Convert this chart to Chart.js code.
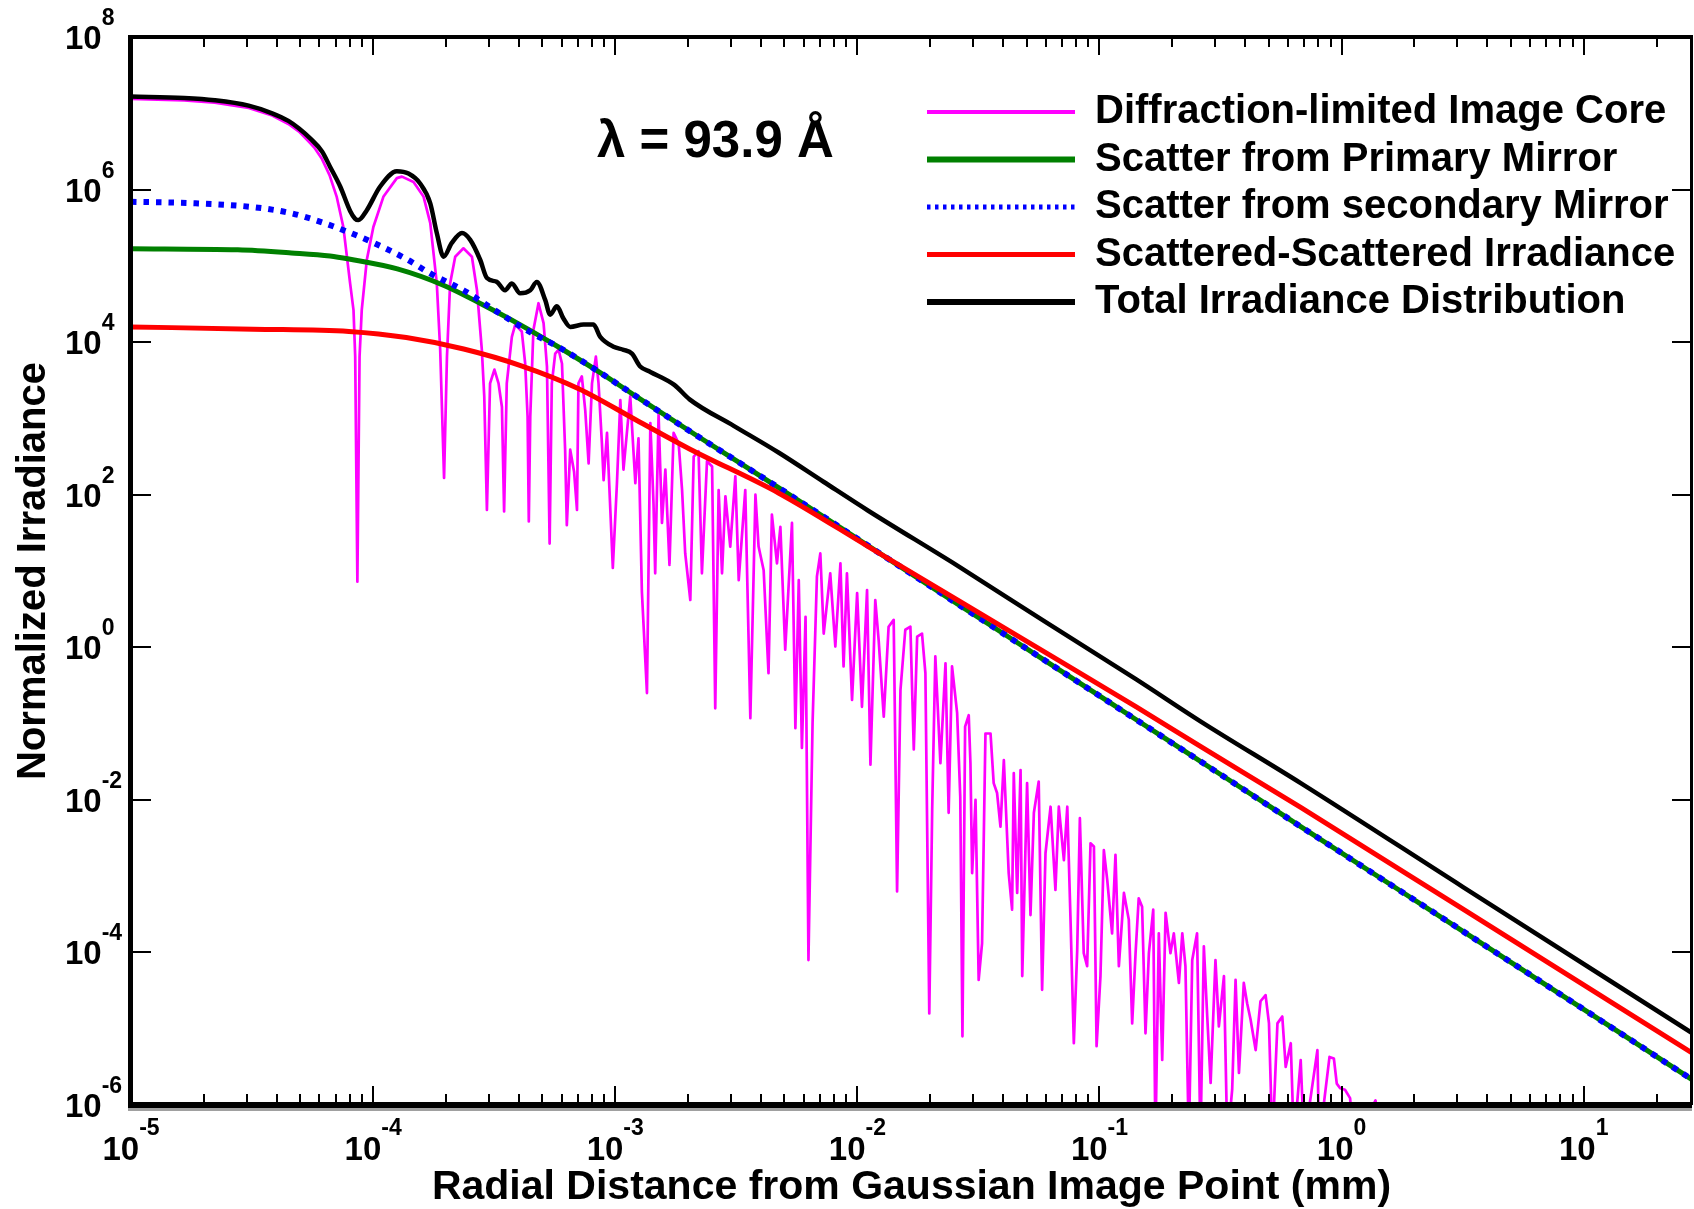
<!DOCTYPE html>
<html>
<head>
<meta charset="utf-8">
<script src="https://cdn.jsdelivr.net/npm/chart.js@4.4.1/dist/chart.umd.min.js"></script>
<style>
  html, body { margin: 0; padding: 0; background: #fff; }
</style>
</head>
<body>
<canvas id="irradiance" width="1694" height="1209"></canvas>
<script>
// values, stored as log10(radius in mm) / log10(normalized irradiance)
const coreLogR = [
  -5.000, -4.780, -4.654, -4.514, -4.417, -4.350, -4.306, -4.260, -4.243, -4.211, -4.180, -4.150, -4.123, -4.095, -4.081, -4.074,
  -4.065, -4.056, -4.047, -4.026, -3.999,
  -3.957, -3.902, -3.881, -3.833, -3.792, -3.764, -3.737, -3.723, -3.707, -3.695, -3.682, -3.661, -3.627, -3.592, -3.571, -3.551,
  -3.541, -3.530, -3.517, -3.499, -3.482, -3.468, -3.459, -3.448, -3.427, -3.413, -3.386, -3.372, -3.362, -3.357, -3.351, -3.338,
  -3.317, -3.296, -3.282, -3.271, -3.262, -3.248, -3.234, -3.220, -3.207, -3.200, -3.186, -3.170, -3.158, -3.152, -3.138, -3.124,
  -3.110, -3.096, -3.080, -3.069, -3.055, -3.048, -3.034, -3.010, -2.993, -2.979, -2.966, -2.938, -2.917, -2.904, -2.890, -2.869,
  -2.855, -2.842, -2.835, -2.821, -2.807, -2.793, -2.776, -2.759, -2.738, -2.724, -2.711, -2.690, -2.676, -2.656, -2.642, -2.621,
  -2.600, -2.587, -2.573, -2.559, -2.545, -2.525, -2.504, -2.490, -2.463, -2.442, -2.421, -2.408, -2.387, -2.367, -2.353, -2.332,
  -2.318, -2.298, -2.270, -2.256, -2.242, -2.229, -2.214, -2.202, -2.185, -2.167, -2.153, -2.139, -2.112, -2.091, -2.070, -2.057,
  -2.043, -2.022, -2.001, -1.981, -1.960, -1.946, -1.926, -1.912, -1.891, -1.871, -1.850, -1.836, -1.822, -1.802, -1.781, -1.767,
  -1.753, -1.733, -1.719, -1.703, -1.691, -1.678, -1.657, -1.636, -1.623, -1.609, -1.588, -1.575, -1.566, -1.555, -1.540, -1.533,
  -1.526, -1.512, -1.499, -1.485, -1.471, -1.450, -1.437, -1.423, -1.409, -1.395, -1.375, -1.361, -1.354, -1.340, -1.326, -1.319,
  -1.299, -1.285, -1.271, -1.251, -1.237, -1.223, -1.202, -1.182, -1.168, -1.147, -1.133, -1.120, -1.106, -1.092, -1.081, -1.065,
  -1.051, -1.037, -1.023, -1.012, -0.996, -0.982, -0.968, -0.948, -0.934, -0.920, -0.899, -0.879, -0.865, -0.851, -0.838, -0.824,
  -0.810, -0.796, -0.778, -0.769, -0.755, -0.741, -0.727, -0.707, -0.693, -0.672, -0.658, -0.645, -0.631, -0.617, -0.597, -0.583,
  -0.569, -0.555, -0.541, -0.521, -0.507, -0.486, -0.472, -0.452, -0.438, -0.424, -0.404, -0.390, -0.376, -0.355, -0.335, -0.314,
  -0.300, -0.286, -0.265, -0.245, -0.231, -0.210, -0.197, -0.169, -0.155, -0.100, -0.093, -0.050, -0.032, -0.020, -0.006, 0.014,
  0.035, 0.050, 0.140, 0.160
];
const coreLogI = [
  7.19, 7.17, 7.14, 7.07, 6.97, 6.86, 6.76, 6.61, 6.55, 6.40, 6.19, 5.90, 5.51, 4.77, 4.42, 3.81,
  0.86, 3.81, 4.42, 5.08, 5.51,
  5.91, 6.15, 6.17, 6.10, 5.91, 5.56, 4.77, 3.90, 2.22, 3.81, 4.77, 5.12, 5.23, 5.12, 4.68, 3.90,
  3.29, 1.80, 3.46, 3.64, 3.46, 3.15, 1.78, 3.46, 4.07, 4.23, 4.14, 3.72, 3.02, 1.65, 3.02, 4.16,
  4.51, 4.25, 3.68, 1.36, 3.46, 3.85, 3.90, 3.72, 2.59, 1.60, 2.59, 2.30, 1.80, 3.46, 3.55, 3.11,
  2.41, 3.46, 3.81, 3.46, 2.67, 2.19, 2.81, 1.04, 2.15, 3.24, 2.33, 3.29, 2.15, 2.74, 0.73, -0.60,
  2.94, 1.89, 0.97, 3.05, 1.63, 2.33, 1.08, 2.81, 2.67, 2.06, 1.23, 0.62, 2.50, 2.57, 0.97, 2.44,
  2.37, -0.80, 2.06, 0.97, 1.98, 1.32, 2.24, 0.88, 2.06, -0.93, 2.00, 1.32, 1.01, -0.34, 1.74, 1.10,
  1.58, -0.03, 1.63, -1.06, 0.88, -1.32, 0.40, -4.10, -0.99, 0.93, 1.23, 0.18, 0.97, 0.01, 1.10, -0.25,
  0.97, -0.69, 0.71, -0.78, 0.75, -1.54, 0.62, 0.09, -0.91, 0.27, 0.36, -3.20, -0.56, 0.23, 0.27, -1.34,
  0.14, 0.18, -0.34, -4.80, -2.13, -0.12, -1.52, -0.21, -2.17, -0.25, -0.86, -1.96, -5.10, -1.04, -0.89, -1.52,
  -2.96, -2.00, -4.36, -3.88, -1.13, -1.13, -1.78, -1.91, -2.35, -1.48, -2.96, -3.44, -1.65, -3.22, -1.61, -4.31,
  -1.78, -3.51, -2.17, -1.76, -4.49, -2.70, -2.09, -3.18, -2.09, -2.79, -2.09, -3.53, -5.19, -3.97, -2.24, -4.01,
  -4.18, -2.57, -2.61, -5.23, -4.31, -2.66, -3.05, -3.75, -2.72, -4.18, -3.22, -3.57, -4.93, -4.01, -3.29, -3.40,
  -5.06, -4.01, -3.44, -6.50, -3.75, -5.41, -3.48, -4.01, -3.75, -4.40, -3.75, -4.18, -6.50, -4.10, -3.75, -6.50,
  -3.92, -4.84, -5.71, -4.10, -4.97, -4.31, -6.50, -5.80, -4.36, -5.58, -4.40, -4.67, -4.88, -5.28, -4.64, -4.56,
  -4.93, -6.50, -4.93, -4.84, -5.50, -5.19, -6.50, -5.41, -6.50, -5.28, -6.50, -5.37, -5.39, -5.72, -5.78, -5.80,
  -5.91, -6.50, -5.94, -6.50
];

const primaryLogR = [-5.000, -4.559, -4.338, -4.178, -4.100, -3.900, -3.705, -3.547, -3.388, -3.231, -3.072, -2.914, -2.661, -2.324, -1.955, -1.587, -1.217, -0.848, -0.479, -0.169, 0.500, 1.449];
const primaryLogI = [5.225, 5.21, 5.17, 5.13, 5.09, 4.96, 4.74, 4.49, 4.22, 3.93, 3.62, 3.29, 2.77, 2.09, 1.33, 0.57, -0.19, -0.95, -1.71, -2.35, -3.72, -5.67];

const secondaryLogR = [-5.000, -4.733, -4.496, -4.338, -4.211, -4.100, -3.990, -3.863, -3.764, -3.627, -3.489, -3.351, -3.231, -3.072, -2.914, -2.661, -2.324, -1.955, -1.587, -1.217, -0.848, -0.479, -0.169, 0.500, 1.449];
const secondaryLogI = [5.84, 5.82, 5.77, 5.69, 5.57, 5.44, 5.29, 5.09, 4.90, 4.68, 4.40, 4.13, 3.93, 3.62, 3.29, 2.77, 2.09, 1.33, 0.57, -0.19, -0.95, -1.71, -2.35, -3.72, -5.67];

const scatScatLogR = [-5.000, -4.496, -4.100, -3.863, -3.626, -3.388, -3.151, -2.914, -2.693, -2.324, -1.955, -1.587, -1.217, -0.848, -0.583, -0.169, 0.500, 1.449];
const scatScatLogI = [4.20, 4.17, 4.14, 4.06, 3.91, 3.69, 3.39, 2.98, 2.60, 2.02, 1.32, 0.62, -0.08, -0.78, -1.30, -2.10, -3.43, -5.32];

const totalLogR = [
  -5.000, -4.780, -4.654, -4.514, -4.417, -4.350, -4.306, -4.260, -4.211, -4.178, -4.136, -4.095, -4.075, -4.061, -4.026, -3.971,
  -3.902, -3.854, -3.806, -3.764, -3.737,
  -3.709, -3.675, -3.633, -3.599, -3.558, -3.530, -3.489, -3.455, -3.427, -3.393, -3.351, -3.324, -3.289, -3.269, -3.241, -3.214,
  -3.186, -3.131, -3.090, -3.062, -3.007, -2.966, -2.931, -2.897, -2.855, -2.756, -2.693, -2.509, -2.324, -2.140, -1.955, -1.587,
  -1.217, -0.848, -0.583, -0.169, 0.500, 1.449
];
const totalLogI = [
  7.22, 7.20, 7.17, 7.10, 7.00, 6.90, 6.80, 6.67, 6.50, 6.30, 6.04, 5.72, 5.62, 5.60, 5.73, 6.04,
  6.24, 6.21, 6.08, 5.82, 5.43,
  5.12, 5.30, 5.43, 5.34, 5.08, 4.84, 4.79, 4.68, 4.77, 4.64, 4.68, 4.79, 4.55, 4.36, 4.47, 4.31,
  4.20, 4.23, 4.23, 4.07, 3.94, 3.90, 3.85, 3.68, 3.61, 3.44, 3.25, 2.90, 2.55, 2.17, 1.79, 1.07,
  0.32, -0.42, -0.97, -1.78, -3.14, -5.06
];

const seriesNames = [
  'Diffraction-limited Image Core',
  'Scatter from Primary Mirror',
  'Scatter from secondary Mirror',
  'Scattered-Scattered Irradiance',
  'Total Irradiance Distribution'
];

// tick labels are "10" with these exponents
const xTickExps = [-5, -4, -3, -2, -1, 0, 1];
const xTickExpLabels = ['-5', '-4', '-3', '-2', '-1', '0', '1'];
const yTickExps = [-6, -4, -2, 0, 2, 4, 6, 8];
const yTickExpLabels = ['-6', '-4', '-2', '0', '2', '4', '6', '8'];

const FONT = "'Liberation Sans', Arial, Helvetica, sans-serif";

const toPoints = (logR, logI) => logR.map((r, i) => ({ x: 10 ** r, y: 10 ** logI[i] }));

// axis frame with inward ticks on all four sides, power-of-ten labels, wavelength note
const framePlugin = {
  id: 'frame',
  afterDraw(chart) {
    const { ctx, chartArea: a, scales: { x, y } } = chart;
    ctx.save();
    ctx.fillStyle = '#a0a0a0';
    ctx.fillRect(a.left - 3, a.bottom + 3, a.right - a.left + 3, 3);
    ctx.fillStyle = '#000';
    ctx.fillRect(a.left - 3, a.top - 2, 5, a.bottom - a.top + 5);
    ctx.fillRect(a.left - 3, a.bottom - 3, a.right - a.left + 3, 6);
    ctx.fillRect(a.left - 3, a.top - 2, a.right - a.left + 4, 4);
    ctx.fillRect(a.right - 2, a.top - 2, 3, a.bottom - a.top + 2);

    ctx.strokeStyle = '#000';
    ctx.lineWidth = 2;
    ctx.beginPath();
    for (let e = -5; e <= 1; e++) {
      for (let m = 1; m <= 9; m++) {
        const v = m * 10 ** e;
        if (v <= x.min * 1.001 || v >= x.max) continue;
        const px = Math.round(x.getPixelForValue(v));
        const len = m === 1 ? 16 : 8;
        ctx.moveTo(px, a.bottom - 3);
        ctx.lineTo(px, a.bottom - 3 - len);
        ctx.moveTo(px, a.top + 2);
        ctx.lineTo(px, a.top + 2 + len);
      }
    }
    yTickExps.forEach(e => {
      const py = Math.round(y.getPixelForValue(10 ** e));
      if (py <= a.top + 4 || py >= a.bottom - 4) return;
      ctx.moveTo(a.left + 2, py);
      ctx.lineTo(a.left + 20, py);
      ctx.moveTo(a.right - 2, py);
      ctx.lineTo(a.right - 20, py);
    });
    ctx.stroke();

    const baseFont = 'bold 33px ' + FONT;
    const expFont = 'bold 23px ' + FONT;
    ctx.fillStyle = '#000';
    ctx.textBaseline = 'alphabetic';
    ctx.textAlign = 'left';
    ctx.font = baseFont;
    const wBase = ctx.measureText('10').width;

    yTickExps.forEach((e, i) => {
      const py = y.getPixelForValue(10 ** e);
      ctx.font = baseFont;
      ctx.fillText('10', 65, py + 12);
      ctx.font = expFont;
      ctx.fillText(yTickExpLabels[i], 65 + wBase, py + 12 - 24);
    });

    xTickExps.forEach((e, i) => {
      const px = x.getPixelForValue(10 ** e);
      ctx.font = expFont;
      const wExp = ctx.measureText(xTickExpLabels[i]).width;
      const x0 = px - (wBase + wExp) / 2;
      ctx.font = baseFont;
      ctx.fillText('10', x0, 1160);
      ctx.font = expFont;
      ctx.fillText(xTickExpLabels[i], x0 + wBase, 1160 - 25);
    });

    ctx.font = 'bold 51px ' + FONT;
    ctx.fillText('λ = 93.9 Å', 597, 157);
    ctx.restore();
  }
};

// put the legend inside the plot, top right
const legendPlacer = {
  id: 'legendPlacer',
  afterLayout(chart) {
    const lg = chart.legend;
    if (!lg) return;
    const w = lg.width;
    lg.left = 919.5;
    lg.top = 84.5;
    lg.right = lg.left + w;
    lg.bottom = lg.top + 300;
  }
};

new Chart(document.getElementById('irradiance'), {
  type: 'line',
  data: {
    datasets: [
      {
        label: seriesNames[0],
        data: toPoints(coreLogR, coreLogI),
        borderColor: '#ff00ff',
        backgroundColor: '#ff00ff',
        borderWidth: 2.7,
        borderJoinStyle: 'round',
        order: 5
      },
      {
        label: seriesNames[1],
        data: toPoints(primaryLogR, primaryLogI),
        borderColor: '#008000',
        backgroundColor: '#008000',
        borderWidth: 5,
        cubicInterpolationMode: 'monotone',
        order: 4
      },
      {
        label: seriesNames[2],
        data: toPoints(secondaryLogR, secondaryLogI),
        borderColor: '#0000ff',
        backgroundColor: '#0000ff',
        borderWidth: 6,
        borderDash: [5.5, 7],
        cubicInterpolationMode: 'monotone',
        order: 3
      },
      {
        label: seriesNames[3],
        data: toPoints(scatScatLogR, scatScatLogI),
        borderColor: '#ff0000',
        backgroundColor: '#ff0000',
        borderWidth: 5,
        cubicInterpolationMode: 'monotone',
        order: 2
      },
      {
        label: seriesNames[4],
        data: toPoints(totalLogR, totalLogI),
        borderColor: '#000000',
        backgroundColor: '#000000',
        borderWidth: 4.5,
        cubicInterpolationMode: 'monotone',
        order: 1
      }
    ]
  },
  options: {
    responsive: false,
    animation: false,
    devicePixelRatio: 1,
    events: [],
    elements: { point: { radius: 0 }, line: { tension: 0 } },
    layout: { padding: { top: 37, right: 2, left: 0, bottom: 0 } },
    plugins: {
      tooltip: { enabled: false },
      legend: {
        position: 'chartArea',
        align: 'start',
        labels: {
          usePointStyle: true,
          pointStyle: 'line',
          pointStyleWidth: 148,
          boxHeight: 40,
          padding: 7.5,
          color: '#000',
          font: { family: FONT, size: 40, weight: 'bold' },
          sort: (a, b) => a.datasetIndex - b.datasetIndex,
          generateLabels: chart => {
            const items = Chart.defaults.plugins.legend.labels.generateLabels(chart);
            const widths = [4, 6, 5, 5, 6];
            items.forEach(it => {
              it.lineWidth = widths[it.datasetIndex];
              it.lineDash = it.datasetIndex === 2 ? [3.5, 4.5] : [];
            });
            return items;
          }
        }
      }
    },
    scales: {
      x: {
        type: 'logarithmic',
        min: 1e-5,
        max: 28,
        afterBuildTicks: s => { s.ticks = xTickExps.map(e => ({ value: 10 ** e })); },
        afterFit: s => { s.height = 104; },
        grid: { display: false },
        border: { display: false },
        ticks: { display: false },
        title: {
          display: true,
          text: 'Radial Distance from Gaussian Image Point (mm)',
          color: '#000',
          font: { family: FONT, size: 41, weight: 'bold', lineHeight: 1 },
          padding: { top: 0, bottom: 1 }
        }
      },
      y: {
        type: 'logarithmic',
        min: 1e-6,
        max: 1e8,
        afterBuildTicks: s => { s.ticks = yTickExps.map(e => ({ value: 10 ** e })); },
        afterFit: s => { s.width = 131; },
        grid: { display: false },
        border: { display: false },
        ticks: { display: false },
        title: {
          display: true,
          text: 'Normalized Irradiance',
          color: '#000',
          font: { family: FONT, size: 40, weight: 'bold', lineHeight: 1 },
          padding: { top: 14, bottom: 0 }
        }
      }
    }
  },
  plugins: [framePlugin, legendPlacer]
});
</script>
</body>
</html>
